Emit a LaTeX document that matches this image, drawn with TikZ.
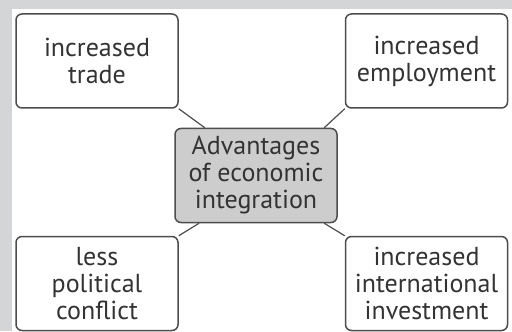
\documentclass[tikz,border=0pt]{standalone}
\usepackage{fontspec}
\setmainfont{PT Sans}
\usetikzlibrary{positioning}
\definecolor{framegray}{HTML}{D4D5D7}
\definecolor{hubgray}{HTML}{CDCDCD}
\definecolor{linegray}{HTML}{4D4D4D}
\definecolor{textgray}{HTML}{333333}

\begin{document}
\begin{tikzpicture}[%
    x=0.5pt, y=-0.5pt,
    font=\fontsize{13}{13.5}\selectfont,
    text=textgray,
    % Boxes
    box/.style={draw=linegray, line width=0.75pt, rounded corners=3pt, fill=white, align=center, minimum width=81pt, minimum height=47pt, inner sep=0pt},
    hub/.style={box, fill=hubgray},
    link/.style={draw=linegray, line width=0.6pt}
]

% --- Frame ---
\fill[framegray] (0,0) rectangle (512,331);
\fill[white] (12,9) rectangle (512,331);
\useasboundingbox (0,0) rectangle (512,331);

% --- Hub ---
\node[hub] (adv) at (256,175.5) {Advantages\\of economic\\integration};

% --- Advantages ---
\node[box] (trade) at (97,61) {increased\\trade};
\node[box] (employ) at (426.5,61) {increased\\employment};
\node[box] (conflict) at (97,283.5) {less\\political\\conflict};
\node[box] (invest) at (426.5,283.5) {increased\\international\\investment};

% Connections
\draw[link] (trade.south east) -- (adv.137.6);
\draw[link] (employ.south west) -- (adv.35.7);
\draw[link] (conflict.north east) -- (adv.220.3);
\draw[link] (invest.north west) -- (adv.325.5);

\end{tikzpicture}
\end{document}
